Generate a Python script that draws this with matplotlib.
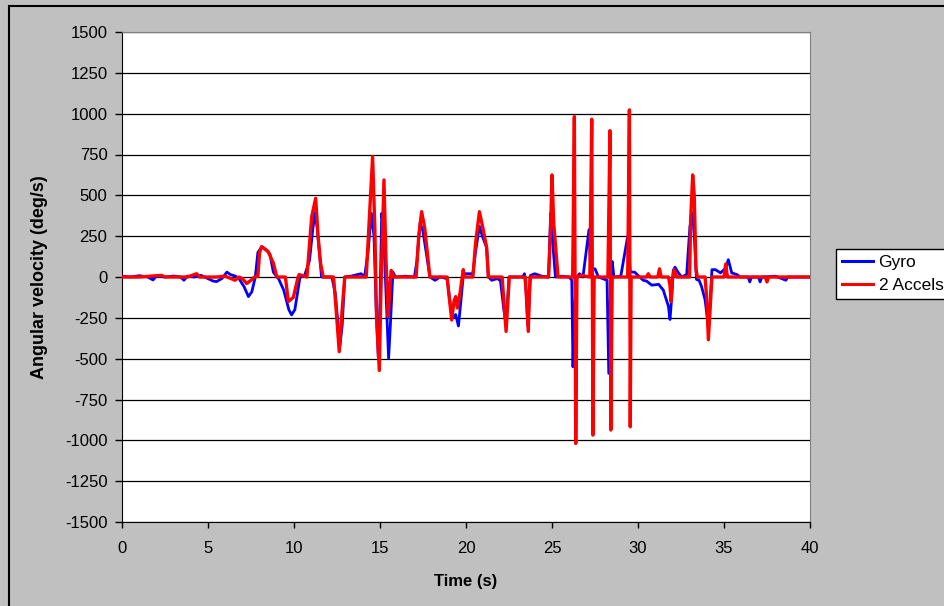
import matplotlib
matplotlib.use("Agg")
import matplotlib.pyplot as plt
from matplotlib.patches import Rectangle

plt.rcParams['font.family'] = ['Liberation Sans', 'DejaVu Sans']
plt.rcParams['axes.unicode_minus'] = False

# ---- data ----
gyro_t = [0.0, 0.5, 1.0, 1.5, 1.8, 2.0, 2.5, 3.0, 3.4, 3.6, 3.8, 4.2, 4.6, 5.0, 5.3, 5.5,
          5.8, 6.1, 6.3, 6.6, 6.8, 7.1, 7.35, 7.55, 7.75, 7.9, 8.12, 8.37, 8.6, 8.8, 9.0,
          9.1, 9.4, 9.7, 9.86, 10.05, 10.35, 10.6, 10.9, 11.1, 11.22, 11.35, 11.6, 12.2,
          12.4, 12.67, 12.8, 12.95, 13.3, 13.9, 14.1, 14.3, 14.5, 14.65, 14.78, 14.9, 15.0,
          15.1, 15.2, 15.35, 15.5, 15.6, 15.75, 15.9, 16.5, 17.0, 17.15, 17.33, 17.5, 17.9,
          18.2, 18.5, 18.9, 19.1, 19.25, 19.4, 19.56, 19.7, 19.85, 20.4, 20.55, 20.78,
          20.95, 21.2, 21.3, 21.5, 21.8, 22.0, 22.2, 22.33, 22.5, 23.3, 23.4, 23.5, 23.6,
          23.75, 24.0, 24.4, 24.8, 24.92, 25.05, 25.2, 25.6, 26.0, 26.15, 26.22, 26.3,
          26.45, 26.6, 26.8, 27.15, 27.25, 27.5, 27.7, 28.2, 28.3, 28.4, 28.5, 28.6, 29.0,
          29.4, 29.55, 29.8, 30.0, 30.3, 30.5, 30.8, 31.2, 31.47, 31.77, 31.86, 31.95,
          32.05, 32.15, 32.35, 32.54, 32.83, 33.02, 33.18, 33.3, 33.4, 33.55, 33.7, 33.9,
          34.09, 34.2, 34.3, 34.5, 34.8, 35.1, 35.25, 35.45, 35.75, 35.95, 36.4, 36.5,
          36.6, 37.0, 37.1, 37.2, 38.0, 38.6, 38.7, 40.0]
gyro_v = [5, 0, 8, 0, -18, 5, 0, 6, 0, -20, 5, 0, 10, -10, -25, -28,
          -10, 30, 15, 5, -10, -60, -120, -90, 0, 150, 185, 170, 140, 30, 0,
          -10, -80, -200, -232, -200, 0, 5, 100, 300, 392, 300, 0, 0,
          -100, -420, -300, 0, 5, 20, 0, 150, 390, 250, -200, -490, -150,
          390, 300, -100, -498, -300, 30, 0, 5, 0, 100, 330, 280, 0,
          -20, 0, -10, -180, -250, -230, -300, -150, 20, 20, 150, 310,
          250, 180, 0, -20, -10, -20, -200, -290, 0, 0, 20, -100, -300,
          10, 20, 5, 0, 390, 200, 0, 5, 0, -20, -550, -200,
          0, 20, 0, 290, 50, 50, 0, -20, -590, -100, 95, 0, 5,
          250, 30, 30, 10, -20, -25, -50, -45, -80, -180, -260, -140,
          40, 60, 25, 0, 15, 310, 392, 200, -15, -20, -60, -140,
          -303, -140, 45, 45, 25, 55, 106, 25, 15, 0, 0, -30,
          0, 0, -30, 0, 5, -20, 0, 0]

accel_t = [0.0, 1.0, 2.3, 2.5, 3.8, 4.34, 4.5, 5.5, 6.0, 6.57, 6.8, 7.0, 7.25, 7.5, 7.7,
           7.9, 8.0, 8.12, 8.5, 8.8, 9.0, 9.5, 9.67, 9.96, 10.24, 10.3, 10.75, 11.03,
           11.26, 11.4, 11.55, 11.7, 12.3, 12.45, 12.63, 12.8, 12.95, 14.2, 14.4, 14.57,
           14.7, 14.8, 14.96, 15.05, 15.23, 15.35, 15.48, 15.55, 15.65, 15.8, 17.1, 17.25,
           17.42, 17.6, 17.9, 18.9, 19.0, 19.17, 19.3, 19.4, 19.5, 19.65, 19.84, 19.9,
           20.4, 20.55, 20.78, 21.0, 21.2, 21.3, 22.1, 22.33, 22.52, 23.45, 23.62, 23.72,
           24.8, 24.92, 25.0, 25.1, 25.35, 26.2, 26.3, 26.38, 26.45, 26.7, 27.2, 27.31,
           27.38, 27.45, 28.25, 28.37, 28.42, 28.5, 29.4, 29.5, 29.55, 29.6, 30.5, 30.6,
           30.7, 31.15, 31.25, 31.35, 31.77, 31.86, 31.92, 32.0, 32.1, 32.25, 33.0, 33.06,
           33.18, 33.27, 33.37, 33.45, 33.9, 34.0, 34.09, 34.2, 34.3, 35.0, 35.1, 35.2,
           37.4, 37.5, 37.6, 40.0]
accel_v = [0, 0, 10, 0, 0, 20, 0, 0, 5, -20, 0, -10, -40, -20, 0,
           5, 150, 186, 155, 85, 0, 0, -150, -125, 0, 15, 0, 370,
           482, 250, 80, 0, 0, -200, -457, -200, 0, 0, 400, 737,
           300, -250, -572, -100, 594, 100, -243, -100, 40, 0, 0, 250,
           400, 300, 0, 0, -100, -263, -150, -120, -190, -100, 45, 0,
           0, 200, 400, 290, 180, 0, 0, -333, 0, 0, -333, 0,
           0, 300, 625, 330, 0, 0, 982, -1019, 0, 10, 0, 966,
           -968, 0, 0, 896, -937, 0, 0, 1023, -917, 0, 0, 20,
           0, 0, 50, 0, 0, -50, -150, -15, 45, 0, 0, 350,
           625, 500, 50, 0, 0, -140, -384, -180, 0, 0, 80, 0,
           0, -30, 0, 0]

series_names = ["Gyro", "2 Accels"]
x_ticks = [0, 5, 10, 15, 20, 25, 30, 35, 40]
y_ticks = [-1500, -1250, -1000, -750, -500, -250, 0, 250, 500, 750, 1000, 1250, 1500]

# ---- figure ----
fig = plt.figure(figsize=(9.44, 6.06), dpi=100, facecolor='#C0C0C0')
fig.add_artist(Rectangle((9 / 944, -0.2), 1.5, 1.2 - 6 / 606, transform=fig.transFigure,
                         fill=False, edgecolor='black', linewidth=1.5))

ax = fig.add_axes([122 / 944, 1 - 522 / 606, 688 / 944, 490 / 606])
ax.set_facecolor('white')

ax.plot(gyro_t, gyro_v, color='#0000FF', lw=2.0, label=series_names[0], zorder=3)
ax.plot(accel_t, accel_v, color='#FF0000', lw=2.4, label=series_names[1], zorder=4)

ax.set_xlim(0, 40)
ax.set_ylim(-1500, 1500)
ax.set_xticks(x_ticks)
ax.set_yticks(y_ticks)
ax.yaxis.grid(True, color='black', lw=0.9)
ax.set_axisbelow(True)

for s in ['top', 'right']:
    ax.spines[s].set_color('#808080')
for s in ['left', 'bottom']:
    ax.spines[s].set_color('black')

ax.tick_params(axis='y', direction='out', length=5, width=1, pad=5.5, labelsize=12)
ax.tick_params(axis='x', direction='out', length=4.5, width=1, pad=9, labelsize=12)

ax.set_xlabel("Time (s)", fontsize=12, fontweight='bold', labelpad=13)
ax.set_ylabel("Angular velocity (deg/s)", fontsize=13, fontweight='bold', labelpad=12)

leg = fig.legend(loc='upper left', bbox_to_anchor=(836 / 944, 1 - 249 / 606),
                 fontsize=12.5, frameon=True, fancybox=False, edgecolor='black',
                 framealpha=1, handlelength=1.8, handletextpad=0.3,
                 labelspacing=0.45, borderpad=0.35, borderaxespad=0)
leg.get_frame().set_linewidth(1.0)
for line in leg.get_lines():
    line.set_linewidth(2.2)

fig.savefig("out.png", dpi=100, facecolor=fig.get_facecolor())
